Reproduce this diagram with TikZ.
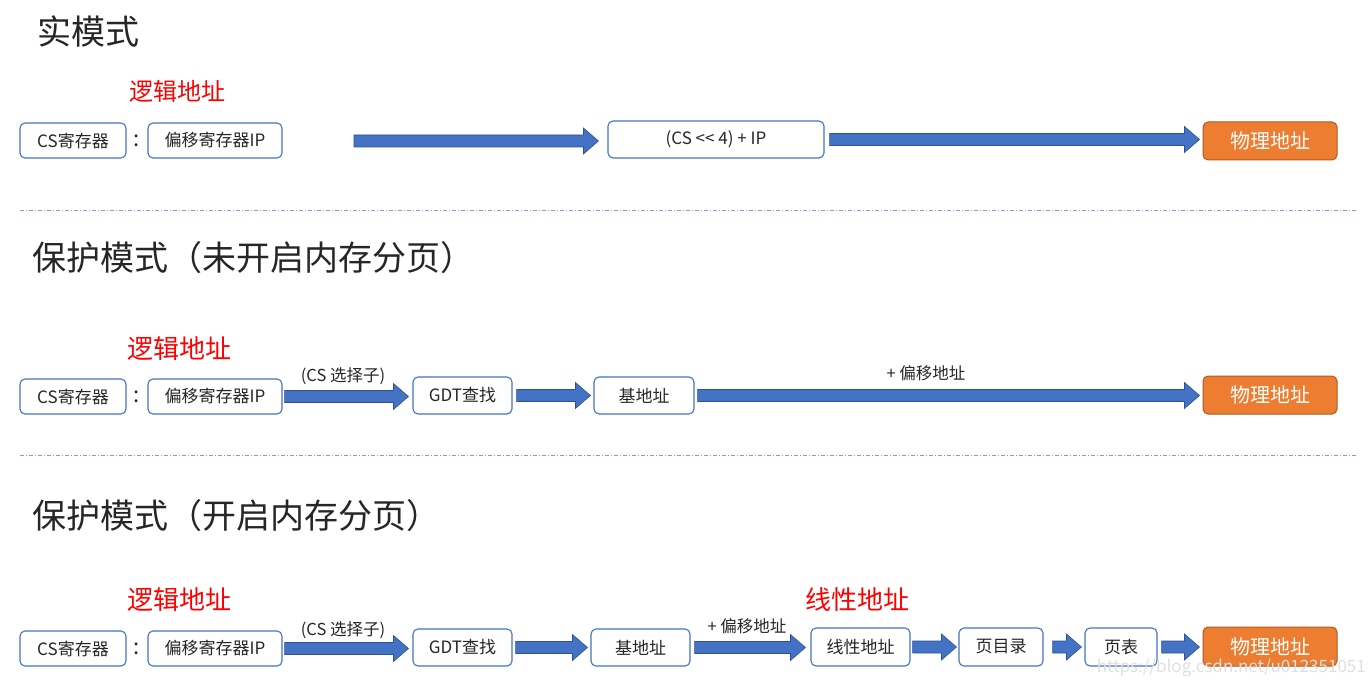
\documentclass[tikz,border=0pt]{standalone}
\usepackage{fontspec}
\setmainfont{Noto Sans CJK SC}
\usetikzlibrary{calc}
\definecolor{bblue}{HTML}{4472C4}
\definecolor{bdark}{HTML}{2F528F}
\definecolor{borange}{HTML}{ED7D31}
\definecolor{bodark}{HTML}{AE5A21}
\definecolor{sepc}{HTML}{7F9FCF}
\definecolor{txt}{HTML}{262626}
\tikzset{
  box/.style={draw=bblue, line width=1.1pt, fill=white, rounded corners=5pt, inner sep=0pt, font=\fontsize{17}{17}\selectfont, text=txt},
  phys/.style={draw=bodark, line width=1pt, fill=borange, rounded corners=5pt, inner sep=0pt, minimum width=134pt, minimum height=38pt, font=\fontsize{20}{20}\selectfont, text=white},
  title/.style={anchor=west, inner sep=0pt, font=\fontsize{34}{34}\selectfont, text=txt},
  red/.style={inner sep=0pt, font=\fontsize{26}{26}\selectfont, text=red},
  lbl/.style={inner sep=0pt, font=\fontsize{16.5}{16.5}\selectfont, text=txt},
  colon/.style={inner sep=0pt, font=\fontsize{22}{22}\selectfont, text=txt},
  barrowst/.style={fill=bblue, draw=bdark, line width=0.6pt},
  sep/.style={draw=sepc, line width=0.8pt, dash pattern=on 4pt off 2pt on 1pt off 2pt},
}
\newcommand\barrow[2]{%
  \path[barrowst] let \p1=#1, \p2=#2 in
    (\x1,\y1+6pt) -- (\x2-15pt,\y1+6pt) -- (\x2-15pt,\y1+13pt) -- (\x2,\y1)
    -- (\x2-15pt,\y1-13pt) -- (\x2-15pt,\y1-6pt) -- (\x1,\y1-6pt) -- cycle;}
\begin{document}
\begin{tikzpicture}[x=1pt,y=-1pt]
\useasboundingbox (0,0) rectangle (1372,687);
\fill[white] (0,0) rectangle (1372,687);

% ---------- Row 1 ----------
\node[title] (t1) at (37,31) {实模式};
\node[red, font=\fontsize{24}{24}\selectfont] (r1) at (177,91) {逻辑地址};
\node[box, minimum width=106pt, minimum height=35pt] (cs1) at (73,140.5) {CS寄存器};
\node[colon] (c1) at (137,141) {:};
\node[box, minimum width=134pt, minimum height=35pt] (ip1) at (215,140.5) {偏移寄存器IP};
\node[box, minimum width=216pt, minimum height=37pt] (calc1) at (716,139.5) {(CS {<}{<} 4) + IP};
\node[phys] (ph1) at (1270,141) {物理地址};
\coordinate (a1s) at (354,141);
\barrow{(a1s)}{($(calc1.west)+(-9pt,0)$)}
\barrow{($(calc1.east)+(5pt,0)$)}{($(ph1.west)+(-3pt,0)$)}

\draw[sep] (20,210) -- (1358,210);

% ---------- Row 2 ----------
\node[title] (t2) at (32,258) {保护模式（未开启内存分页）};
\node[red] (r2) at (179,349) {逻辑地址};
\node[box, minimum width=106pt, minimum height=35pt] (cs2) at (73,396.5) {CS寄存器};
\node[colon] (c2) at (137,397) {:};
\node[box, minimum width=134pt, minimum height=35pt] (ip2) at (215,396.5) {偏移寄存器IP};
\node[box, minimum width=99pt, minimum height=37pt] (gdt2) at (462.5,395.5) {GDT查找};
\node[box, minimum width=100pt, minimum height=37pt] (base2) at (644,395.5) {基地址};
\node[phys] (ph2) at (1270,395) {物理地址};
\barrow{($(ip2.east)+(2pt,0)$)}{($(gdt2.west)+(-4pt,0)$)}
\barrow{($(gdt2.east)+(4pt,0)$)}{($(base2.west)+(-3pt,0)$)}
\barrow{($(base2.east)+(3pt,0)$)}{($(ph2.west)+(-3pt,0)$)}
\node[lbl] (l21) at (343,376) {(CS 选择子)};
\node[lbl] (l22) at (926,373) {+ 偏移地址};

\draw[sep] (20,455) -- (1358,455);

% ---------- Row 3 ----------
\node[title] (t3) at (32,516) {保护模式（开启内存分页）};
\node[red] (r3) at (179,600) {逻辑地址};
\node[red] (r4) at (857,600) {线性地址};
\node[box, minimum width=106pt, minimum height=35pt] (cs3) at (73,648.5) {CS寄存器};
\node[colon] (c3) at (137,649) {:};
\node[box, minimum width=134pt, minimum height=35pt] (ip3) at (215,648.5) {偏移寄存器IP};
\node[box, minimum width=99pt, minimum height=37pt] (gdt3) at (462.5,647.5) {GDT查找};
\node[box, minimum width=99pt, minimum height=37pt] (base3) at (640.5,647.5) {基地址};
\node[box, minimum width=99pt, minimum height=38pt] (lin3) at (860.5,647) {线性地址};
\node[box, minimum width=84pt, minimum height=38pt] (pd3) at (1001,647) {页目录};
\node[box, minimum width=72pt, minimum height=38pt] (pt3) at (1121,647) {页表};
\node[phys, minimum height=39pt] (ph3) at (1270,646.5) {物理地址};
\barrow{($(ip3.east)+(2pt,0)$)}{($(gdt3.west)+(-4pt,0)$)}
\barrow{($(gdt3.east)+(3pt,0)$)}{($(base3.west)+(-3pt,0)$)}
\barrow{($(base3.east)+(4pt,0)$)}{($(lin3.west)+(-5pt,0)$)}
\barrow{($(lin3.east)+(2pt,0)$)}{($(pd3.west)+(-2pt,0)$)}
\barrow{($(pd3.east)+(9pt,0)$)}{($(pt3.west)+(-3pt,0)$)}
\barrow{($(pt3.east)+(4pt,0)$)}{($(ph3.west)+(-3pt,0)$)}
\node[lbl] (l31) at (343,630) {(CS 选择子)};
\node[lbl] (l32) at (747,626) {+ 偏移地址};

\node[inner sep=0pt, font=\fontsize{17}{17}\selectfont, text=black!12, anchor=east] (wm) at (1366,668) {https://blog.csdn.net/u012351051};
\end{tikzpicture}
\end{document}
